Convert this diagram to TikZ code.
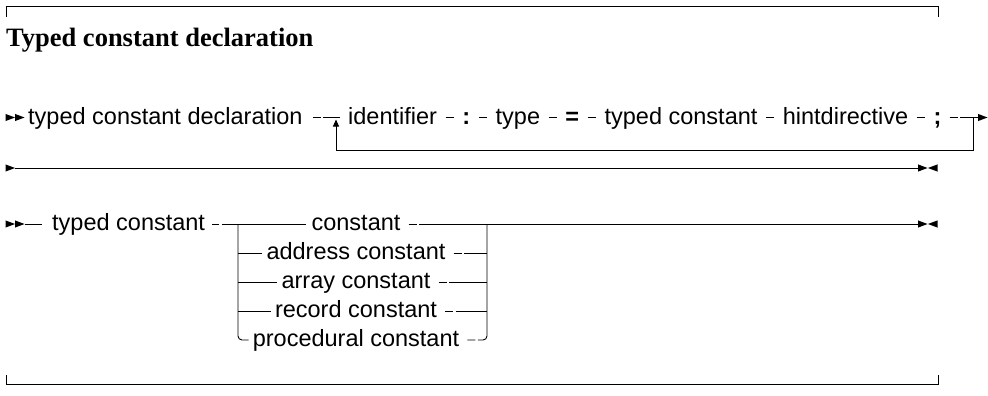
\documentclass[tikz,border=0pt]{standalone}
\usepackage{fontspec}
\setmainfont{Liberation Serif}
\setsansfont{Liberation Sans}
\usetikzlibrary{positioning,arrows.meta}
\tikzset{
  lbl/.style={font=\sffamily\fontsize{23.5}{27}\selectfont, inner sep=0pt, text height=17pt, text depth=3.5pt},
  kw/.style={lbl, font=\sffamily\bfseries\fontsize{23.5}{27}\selectfont},
  rail/.style={line width=0.9pt},
  dashgap/.style={dash pattern=on #1 off 2.5pt on 900pt},
  frame/.style={line width=0.9pt},
  tipr/.pic={\fill (0,-3.6) -- (9.5,0) -- (0,3.6) -- cycle;},
  tipl/.pic={\fill (0,-3.6) -- (-9.5,0) -- (0,3.6) -- cycle;}
}
\begin{document}
\begin{tikzpicture}[x=1pt,y=-1pt]
\useasboundingbox (0,0) rectangle (988,396);
% frame
\draw[frame] (6,17) -- (6,6.5) -- (938.5,6.5) -- (938.5,17);
\draw[frame] (6,375) -- (6,384.5) -- (938.5,384.5) -- (938.5,375);
\node[anchor=base west, inner sep=0pt, font=\bfseries\fontsize{26.5}{30}\selectfont] (title) at (6,47) {Typed constant declaration};

% ---- line 1
\pic at (5.5,117.5) {tipr};
\pic at (15,117.5) {tipr};
\node[lbl, anchor=west] (decl) at (28,117.5) {typed constant declaration};
\coordinate (jl1) at (336,117.5);
\node[lbl, anchor=west] (ident) at (348,117.5) {identifier};
\node[kw, right=25pt of ident] (colon) {:};
\node[lbl, right=25pt of colon] (type) {type};
\node[kw, right=25pt of type] (eq) {=};
\node[lbl, right=25pt of eq] (tconst) {typed constant};
\node[lbl, right=25pt of tconst] (hint) {hintdirective};
\node[kw, right=25pt of hint] (semi) {;};
\coordinate (jr1) at (973,117.5);
\coordinate (end1) at (978,117.5);
\coordinate (loop) at (0,150);

\draw[rail, dashgap=8pt, shorten <=10pt, shorten >=8pt] (decl) -- (ident);
\foreach \a/\b in {ident/colon, colon/type, type/eq, eq/tconst, tconst/hint, hint/semi}
  \draw[rail, shorten <=8.5pt, shorten >=8.5pt] (\a) -- (\b);
\draw[rail, dashgap=8pt, shorten <=8pt] (semi) -- (end1);
\pic at (end1) {tipr};
\draw[rail, -{Triangle[length=7pt,width=6pt]}, shorten >=2pt] (jr1) -- (jr1 |- loop) -- (jl1 |- loop) -- (jl1);

% ---- line 2
\coordinate (s2) at (5.5,168);
\coordinate (e2) at (918,168);
\pic at (s2) {tipr};
\draw[rail, shorten <=9pt] (s2) -- (e2);
\pic at (e2) {tipr};
\pic at (937.5,168) {tipl};

% ---- line 3
\pic at (5.5,224) {tipr};
\pic at (15,224) {tipr};
\coordinate (st3) at (24.5,224);
\node[lbl, anchor=west] (tc) at (52,224) {typed constant};
\coordinate (jl) at (238,224);
\coordinate (jr) at (487,224);
\coordinate (end3) at (918,224);
\node[lbl] (o1) at (356,224) {constant};
\node[lbl] (o2) at (356,253) {address constant};
\node[lbl] (o3) at (356,282) {array constant};
\node[lbl] (o4) at (356,311) {record constant};
\node[lbl] (o5) at (356,340) {procedural constant};

\draw[rail, shorten >=10pt] (st3) -- (tc);
\draw[rail, dashgap=7pt, shorten <=7pt, shorten >=5pt] (tc) -- (o1);
\draw[rail, dashgap=8pt, shorten <=8pt] (o1) -- (end3);
\pic at (end3) {tipr};
\pic at (937.5,224) {tipl};

\draw[rail, rounded corners=4pt, shorten >=4pt] (jl) |- (o5.west);
\foreach \o in {o2,o3,o4}{
  \draw[rail, shorten >=4pt] (jl |- \o) -- (\o.west);
  \draw[rail, dashgap=8pt, shorten <=8pt] (\o.east) -- (jr |- \o);
}
\draw[rail, rounded corners=4pt, dashgap=8pt, shorten <=8pt] (o5.east) -| (jr);
\end{tikzpicture}
\end{document}
